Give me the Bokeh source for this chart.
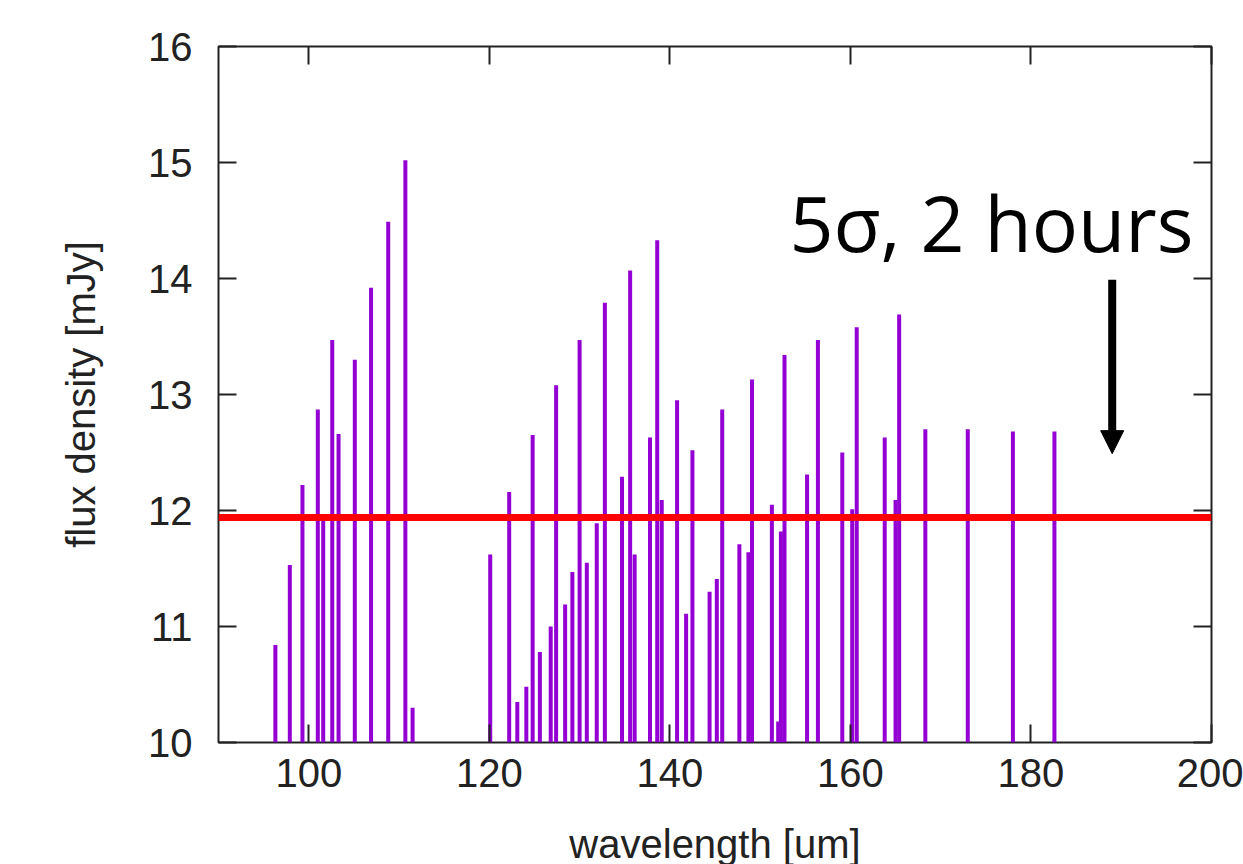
from bokeh.plotting import figure
from bokeh.models import (Range1d, LinearAxis, Span, Label, Arrow, NormalHead,
                          FixedTicker, CustomJSTickFormatter, ColumnDataSource)
from bokeh.embed import file_html
from bokeh.resources import INLINE

# ---- data ----
wavelength = [96.3, 97.9, 99.3, 101.0, 101.6, 102.6, 103.3, 105.1, 106.9, 108.8, 110.7, 111.5,
              120.1, 122.2, 123.1, 124.1, 124.8, 125.6, 126.8, 127.4, 128.4, 129.2, 130.0,
              130.8, 131.9, 132.8, 134.7, 135.6, 136.1, 137.8, 138.6, 139.1, 140.8, 141.8,
              142.5, 144.4, 145.2, 145.8, 147.7, 148.7, 149.1, 151.3, 152.0, 152.3, 152.7,
              155.2, 156.4, 159.1, 160.2, 160.7, 163.8, 165.0, 165.4, 168.3, 173.0, 178.0, 182.6]
flux = [10.84, 11.53, 12.22, 12.87, 11.93, 13.47, 12.66, 13.30, 13.92, 14.49, 15.02, 10.30,
        11.62, 12.16, 10.35, 10.48, 12.65, 10.78, 11.00, 13.08, 11.19, 11.47, 13.47,
        11.55, 11.89, 13.79, 12.29, 14.07, 11.62, 12.63, 14.33, 12.09, 12.95, 11.11,
        12.52, 11.30, 11.41, 12.87, 11.71, 11.64, 13.13, 12.05, 10.18, 11.82, 13.34,
        12.31, 13.47, 12.50, 12.01, 13.58, 12.63, 12.09, 13.69, 12.70, 12.70, 12.68, 12.68]
threshold = 11.94            # 5 sigma, 2 hours
x_ticks = [100, 120, 140, 160, 180, 200]
y_ticks = [10, 11, 12, 13, 14, 15, 16]
x_lim = (90, 200)
y_lim = (10, 16)
x_title = "wavelength [um]"
y_title = "flux density [mJy]"
annotation_text = "5σ, 2 hours"

# ---- figure ----
p = figure(frame_width=993, frame_height=696,
           x_range=Range1d(*x_lim), y_range=Range1d(*y_lim),
           output_backend="svg", toolbar_location=None,
           min_border_left=218, min_border_top=46, min_border_right=32, min_border_bottom=122,
           x_axis_label=x_title, y_axis_label=y_title)
p.background_fill_color = "white"
p.border_fill_color = "white"
p.xgrid.visible = False
p.ygrid.visible = False
p.outline_line_color = "#222222"
p.outline_line_width = 2

FONT = "Liberation Sans"
INK = "#222222"


def style_axis(ax):
    ax.axis_line_color = None
    ax.major_tick_in = 18
    ax.major_tick_out = 0
    ax.major_tick_line_color = INK
    ax.major_tick_line_width = 2
    ax.minor_tick_line_color = None
    ax.major_label_text_font = FONT
    ax.major_label_text_font_size = "40px"
    ax.major_label_text_color = INK
    ax.axis_label_text_font = FONT
    ax.axis_label_text_font_size = "40px"
    ax.axis_label_text_font_style = "normal"
    ax.axis_label_text_color = INK


xa = p.xaxis[0]
ya = p.yaxis[0]
xa.ticker = FixedTicker(ticks=x_ticks)
ya.ticker = FixedTicker(ticks=y_ticks)
style_axis(xa)
style_axis(ya)
xa.major_label_standoff = 16
xa.axis_label_standoff = 32
ya.major_label_standoff = 26
ya.axis_label_standoff = 42

# mirrored ticks on top and right (no labels)
blank = CustomJSTickFormatter(code="return ''")
top = LinearAxis(ticker=FixedTicker(ticks=x_ticks), formatter=blank)
right = LinearAxis(ticker=FixedTicker(ticks=y_ticks), formatter=blank)
for ax in (top, right):
    style_axis(ax)
    ax.major_label_standoff = 0
    ax.major_label_text_font_size = "10px"
p.add_layout(top, "above")
p.add_layout(right, "right")

# ---- impulses ----
src = ColumnDataSource(dict(x=wavelength, top=flux, base=[y_lim[0]] * len(flux)))
p.segment(x0="x", y0="base", x1="x", y1="top", source=src,
          line_color="#9400D3", line_width=4)

# ---- threshold line ----
p.add_layout(Span(location=threshold, dimension="width",
                  line_color="#FF0000", line_width=7))

# ---- annotation ----
p.add_layout(Label(x=198.0, y=14.48, text=annotation_text,
                   text_font="Open Sans", text_font_size="77px",
                   text_align="right", text_baseline="alphabetic",
                   text_color="black"))
p.add_layout(Arrow(end=NormalHead(size=23, fill_color="black", line_color="black"),
                   x_start=189.0, y_start=13.99, x_end=189.0, y_end=12.49,
                   line_color="black", line_width=8))

open("out.html", "w").write(file_html(p, INLINE))
